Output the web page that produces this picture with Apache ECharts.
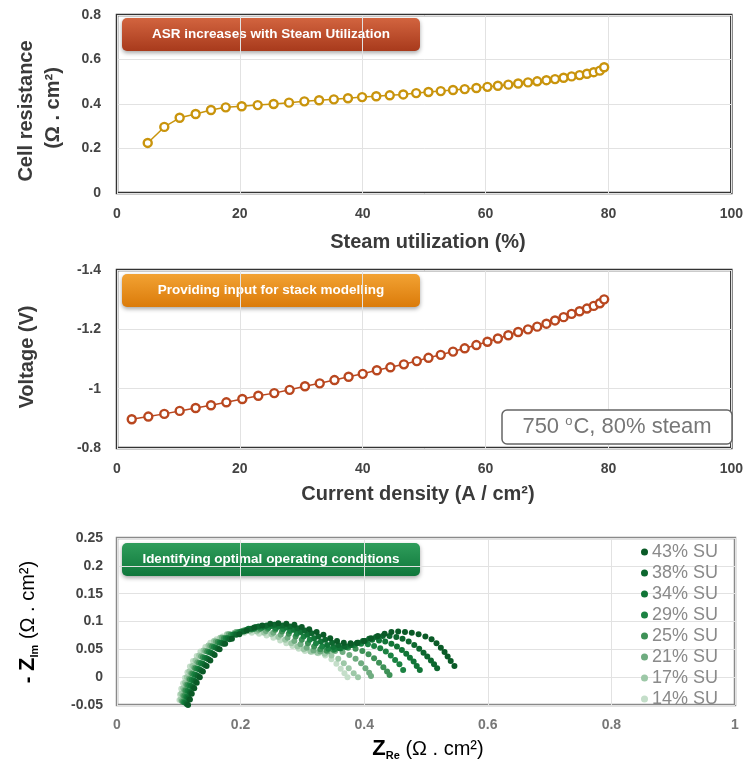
<!DOCTYPE html>
<html><head><meta charset="utf-8">
<script src="https://cdn.jsdelivr.net/npm/echarts@6/dist/echarts.min.js"></script>
<style>html,body{margin:0;padding:0;background:#fff}#c{width:746px;height:767px}</style>
</head><body><div id="c"></div>
<script>
// ---------- DATA ----------
const steamUtil = [5.0,7.7,10.2,12.8,15.3,17.7,20.3,22.9,25.5,28.0,30.5,32.9,35.3,37.6,39.9,42.2,44.4,46.6,48.7,50.7,52.7,54.7,56.6,58.5,60.3,62.0,63.7,65.3,66.9,68.4,69.9,71.3,72.7,74.0,75.3,76.5,77.6,78.6,79.3];
const cellRes = [0.225,0.297,0.338,0.355,0.373,0.385,0.390,0.395,0.400,0.406,0.412,0.417,0.421,0.426,0.431,0.435,0.439,0.443,0.449,0.454,0.458,0.463,0.467,0.472,0.477,0.482,0.487,0.492,0.497,0.502,0.507,0.512,0.518,0.524,0.530,0.536,0.543,0.550,0.565];
const currentDensity = [2.4,5.1,7.7,10.2,12.8,15.3,17.8,20.4,23.0,25.6,28.1,30.6,33.0,35.4,37.7,40.0,42.3,44.5,46.7,48.8,50.7,52.7,54.7,56.6,58.5,60.3,62.0,63.7,65.3,66.9,68.4,69.9,71.3,72.7,74.0,75.3,76.5,77.6,78.6,79.3];
const voltage = [-0.897,-0.906,-0.915,-0.925,-0.935,-0.944,-0.954,-0.965,-0.976,-0.985,-0.996,-1.008,-1.018,-1.029,-1.040,-1.050,-1.062,-1.072,-1.082,-1.093,-1.104,-1.114,-1.125,-1.136,-1.147,-1.158,-1.169,-1.180,-1.191,-1.200,-1.209,-1.219,-1.230,-1.241,-1.252,-1.261,-1.270,-1.279,-1.288,-1.301];

const suLabels = ['43% SU','38% SU','34% SU','29% SU','25% SU','21% SU','17% SU','14% SU'];

const eis43 = [[0.115,-0.050],[0.118,-0.040],[0.121,-0.030],[0.125,-0.020],[0.129,-0.010],[0.134,0.000],[0.139,0.010],[0.145,0.020],[0.151,0.030],[0.158,0.040],[0.166,0.050],[0.175,0.060],[0.186,0.069],[0.198,0.077],[0.210,0.084],[0.222,0.089],[0.235,0.093],[0.248,0.096],[0.261,0.097],[0.274,0.096],[0.287,0.094],[0.299,0.090],[0.311,0.086],[0.323,0.081],[0.334,0.076],[0.345,0.070],[0.356,0.065],[0.367,0.062],[0.378,0.061],[0.389,0.062],[0.400,0.065],[0.411,0.070],[0.422,0.074],[0.433,0.078],[0.444,0.081],[0.455,0.082],[0.466,0.081],[0.477,0.080],[0.488,0.077],[0.499,0.073],[0.509,0.068],[0.517,0.061],[0.524,0.053],[0.530,0.045],[0.535,0.037],[0.540,0.029],[0.546,0.020]];
const eis38 = [[0.113,-0.048],[0.116,-0.038],[0.119,-0.028],[0.123,-0.018],[0.127,-0.008],[0.131,0.002],[0.136,0.012],[0.142,0.022],[0.148,0.032],[0.155,0.042],[0.163,0.051],[0.172,0.060],[0.182,0.068],[0.193,0.076],[0.205,0.082],[0.217,0.087],[0.229,0.091],[0.242,0.093],[0.255,0.094],[0.268,0.093],[0.280,0.091],[0.292,0.088],[0.304,0.084],[0.315,0.079],[0.326,0.073],[0.337,0.067],[0.348,0.062],[0.358,0.058],[0.368,0.056],[0.378,0.058],[0.388,0.061],[0.398,0.065],[0.408,0.069],[0.419,0.072],[0.430,0.074],[0.441,0.074],[0.452,0.072],[0.462,0.069],[0.472,0.064],[0.481,0.058],[0.489,0.051],[0.496,0.044],[0.502,0.037],[0.508,0.030],[0.513,0.023],[0.518,0.016]];
const eis34 = [[0.111,-0.046],[0.114,-0.036],[0.117,-0.026],[0.120,-0.016],[0.124,-0.006],[0.128,0.004],[0.133,0.014],[0.139,0.024],[0.145,0.034],[0.152,0.044],[0.160,0.053],[0.169,0.062],[0.179,0.070],[0.190,0.077],[0.201,0.082],[0.213,0.087],[0.225,0.090],[0.238,0.091],[0.250,0.092],[0.262,0.091],[0.274,0.089],[0.286,0.085],[0.297,0.081],[0.308,0.076],[0.319,0.070],[0.330,0.064],[0.340,0.058],[0.350,0.054],[0.360,0.052],[0.370,0.054],[0.380,0.058],[0.391,0.062],[0.402,0.065],[0.413,0.067],[0.424,0.066],[0.434,0.064],[0.444,0.060],[0.453,0.055],[0.461,0.049],[0.468,0.042],[0.474,0.035],[0.480,0.028],[0.485,0.020],[0.490,0.013]];
const eis29 = [[0.109,-0.045],[0.112,-0.035],[0.114,-0.025],[0.117,-0.015],[0.121,-0.005],[0.125,0.005],[0.130,0.015],[0.136,0.025],[0.142,0.035],[0.149,0.045],[0.157,0.054],[0.166,0.062],[0.176,0.070],[0.187,0.076],[0.198,0.081],[0.210,0.085],[0.222,0.087],[0.234,0.089],[0.245,0.089],[0.257,0.088],[0.269,0.086],[0.280,0.083],[0.291,0.078],[0.302,0.073],[0.312,0.067],[0.322,0.061],[0.332,0.055],[0.342,0.051],[0.352,0.050],[0.362,0.052],[0.373,0.055],[0.384,0.058],[0.395,0.060],[0.406,0.059],[0.416,0.056],[0.426,0.052],[0.435,0.046],[0.443,0.039],[0.450,0.031],[0.457,0.023],[0.463,0.013]];
const eis25 = [[0.107,-0.044],[0.109,-0.034],[0.111,-0.024],[0.114,-0.014],[0.118,-0.004],[0.122,0.006],[0.127,0.016],[0.133,0.026],[0.139,0.036],[0.146,0.046],[0.154,0.055],[0.163,0.063],[0.173,0.070],[0.184,0.076],[0.195,0.080],[0.207,0.084],[0.219,0.086],[0.232,0.087],[0.244,0.087],[0.256,0.085],[0.267,0.082],[0.278,0.078],[0.289,0.073],[0.299,0.067],[0.309,0.061],[0.319,0.055],[0.329,0.050],[0.339,0.048],[0.350,0.049],[0.362,0.052],[0.374,0.053],[0.386,0.051],[0.397,0.047],[0.407,0.041],[0.416,0.034],[0.424,0.026],[0.431,0.018],[0.437,0.010],[0.441,0.004]];
const eis21 = [[0.105,-0.043],[0.107,-0.033],[0.109,-0.023],[0.112,-0.013],[0.116,-0.003],[0.120,0.007],[0.125,0.017],[0.130,0.027],[0.136,0.037],[0.143,0.047],[0.151,0.056],[0.160,0.064],[0.170,0.071],[0.181,0.077],[0.193,0.081],[0.205,0.084],[0.217,0.085],[0.229,0.085],[0.241,0.083],[0.253,0.080],[0.265,0.076],[0.276,0.071],[0.287,0.065],[0.297,0.059],[0.307,0.053],[0.318,0.048],[0.329,0.046],[0.341,0.046],[0.353,0.047],[0.365,0.045],[0.376,0.040],[0.386,0.033],[0.395,0.025],[0.402,0.016],[0.408,0.008],[0.411,0.002]];
const eis17 = [[0.103,-0.040],[0.104,-0.030],[0.107,-0.020],[0.110,-0.010],[0.113,0.000],[0.117,0.010],[0.122,0.020],[0.127,0.030],[0.133,0.039],[0.140,0.048],[0.148,0.057],[0.157,0.065],[0.167,0.071],[0.178,0.077],[0.190,0.080],[0.202,0.082],[0.214,0.083],[0.226,0.082],[0.238,0.080],[0.250,0.077],[0.261,0.072],[0.272,0.067],[0.282,0.061],[0.292,0.055],[0.302,0.050],[0.313,0.046],[0.324,0.044],[0.336,0.042],[0.347,0.039],[0.358,0.033],[0.367,0.025],[0.375,0.016],[0.383,0.007],[0.390,0.000]];
const eis14 = [[0.101,-0.041],[0.102,-0.031],[0.104,-0.021],[0.107,-0.011],[0.110,-0.001],[0.114,0.009],[0.118,0.019],[0.123,0.029],[0.129,0.038],[0.135,0.046],[0.143,0.054],[0.151,0.062],[0.161,0.068],[0.171,0.073],[0.182,0.077],[0.194,0.079],[0.206,0.080],[0.218,0.080],[0.230,0.078],[0.242,0.075],[0.253,0.071],[0.264,0.066],[0.274,0.061],[0.284,0.056],[0.294,0.051],[0.304,0.047],[0.315,0.045],[0.326,0.043],[0.337,0.039],[0.347,0.032],[0.355,0.024],[0.362,0.015],[0.368,0.007],[0.373,0.000]];

const eisSets = [eis43, eis38, eis34, eis29, eis25, eis21, eis17, eis14];

// ---------- STYLE ----------
const FF = '"Liberation Sans", Arial, sans-serif';
const suColors = ['#0a5a27','#0d672f','#117537','#1b8242','#3e9157','#6fac80','#9dc8a7','#c4dec9'];
const gridLine = {show:true, lineStyle:{color:'#e2e2e2', width:1}};
const tickLbl = (m, c) => ({fontFamily:FF, fontSize:14, fontWeight:'bold', color:c || '#444', margin:m});

const chart = echarts.init(document.getElementById('c'), null, {renderer:'canvas'});

function valAxis(grid, min, max, interval, lblMargin, color, extra) {
  return Object.assign({
    type:'value', gridIndex:grid, min:min, max:max, interval:interval,
    axisLine:{show:false}, axisTick:{show:false}, splitLine:gridLine,
    axisLabel:tickLbl(lblMargin, color)
  }, extra || {});
}

function badge(y, text, c1, c2) {
  return {
    type:'group', left:122, top:y, children:[
      {type:'rect', shape:{x:0, y:0, width:298, height:33, r:5},
       style:{fill:new echarts.graphic.LinearGradient(0,0,0,1,[{offset:0,color:c1},{offset:1,color:c2}]),
              shadowBlur:4, shadowOffsetY:2, shadowColor:'rgba(0,0,0,0.35)'}},
      {type:'text', x:149, y:16.5, style:{text:text, font:'bold 13.5px ' + FF, fill:'#fff', align:'center', verticalAlign:'middle'}}
    ]
  };
}

const labelColor = '#3a3a3a';

const series = [
  {type:'line', xAxisIndex:0, yAxisIndex:0, data:steamUtil.map((x,i)=>[x, cellRes[i]]),
   symbol:'circle', symbolSize:8, showSymbol:true,
   lineStyle:{color:'#c9940c', width:1.5}, itemStyle:{color:'#fff', borderColor:'#c9940c', borderWidth:2.4}, z:3},
  {type:'line', xAxisIndex:1, yAxisIndex:1, data:currentDensity.map((x,i)=>[x, voltage[i]]),
   symbol:'circle', symbolSize:8, showSymbol:true,
   lineStyle:{color:'#b9471f', width:1.5}, itemStyle:{color:'#fff', borderColor:'#b9471f', borderWidth:2.4}, z:3}
];
for (let k = eisSets.length - 1; k >= 0; k--) {
  series.push({type:'scatter', name:suLabels[k], xAxisIndex:2, yAxisIndex:2, data:eisSets[k],
    symbol:'circle', symbolSize:6, itemStyle:{color:suColors[k], opacity:1}, z:3 + (eisSets.length - k)});
}

const option = {
  animation:false,
  backgroundColor:'#fff',
  textStyle:{fontFamily:FF},
  grid:[
    {left:117, top:15, width:618, height:178, show:true, borderColor:'#333', borderWidth:2.5, backgroundColor:'transparent'},
    {left:117, top:270, width:618, height:178, show:true, borderColor:'#333', borderWidth:2.5, backgroundColor:'transparent'},
    {left:117, top:538, width:618, height:167, show:true, borderColor:'#8a8a8a', borderWidth:2.5, backgroundColor:'transparent'}
  ],
  xAxis:[
    valAxis(0, 0, 100, 20, 14),
    valAxis(1, 0, 100, 20, 14),
    valAxis(2, 0, 1, 0.2, 13, '#777')
  ],
  yAxis:[
    valAxis(0, 0, 0.8, 0.2, 16),
    valAxis(1, -1.4, -0.8, 0.2, 16, null, {inverse:true}),
    valAxis(2, -0.05, 0.25, 0.05, 14)
  ],
  legend:{
    data:suLabels, orient:'vertical', left:641, top:543, padding:0, itemGap:3,
    itemWidth:7, itemHeight:7, icon:'circle', selectedMode:false,
    textStyle:{fontFamily:FF, fontSize:18, color:'#8a8a8a', padding:[0,0,0,-1]}
  },
  series:series,
  graphic:[
    badge(18, 'ASR increases with Steam Utilization', '#d2643f', '#a83a1c'),
    badge(274, 'Providing input for stack modelling', '#f2a233', '#db7b0a'),
    badge(543, 'Identifying optimal operating conditions', '#2f9d5b', '#0f773b'),
    // condition box
    {type:'rect', shape:{x:502, y:410, width:230, height:34, r:5}, style:{fill:'#fff', stroke:'#666', lineWidth:1.5}, z:10},
    {type:'text', x:617, y:427, z:11, style:{
      text:'{a|750 }{s|o}{a|C, 80% steam}', align:'center', verticalAlign:'middle',
      rich:{a:{fontFamily:FF, fontSize:22, fill:'#777', color:'#777', lineHeight:24},
            s:{fontFamily:FF, fontSize:13, fill:'#777', color:'#777', lineHeight:24, verticalAlign:'top', padding:[0,1,10,0]}}}},
    // y axis titles
    {type:'text', x:26, y:111, rotation:Math.PI/2, style:{text:'Cell resistance', font:'bold 20px ' + FF, fill:labelColor, align:'center', verticalAlign:'middle'}},
    {type:'text', x:53, y:108, rotation:Math.PI/2, style:{text:'(Ω . cm²)', font:'bold 20px ' + FF, fill:labelColor, align:'center', verticalAlign:'middle'}},
    {type:'text', x:27, y:357, rotation:Math.PI/2, style:{text:'Voltage (V)', font:'bold 20px ' + FF, fill:labelColor, align:'center', verticalAlign:'middle'}},
    {type:'text', x:28, y:622, rotation:Math.PI/2, style:{
      text:'{d|- }{z|Z}{b|Im}{r| (Ω . cm²)}', align:'center', verticalAlign:'middle',
      rich:{d:{fontFamily:FF, fontSize:20, fontWeight:'bold', color:labelColor, lineHeight:24},
            z:{fontFamily:FF, fontSize:22, fontWeight:'bold', color:labelColor, lineHeight:24},
            b:{fontFamily:FF, fontSize:11, fontWeight:'bold', color:labelColor, lineHeight:24, verticalAlign:'bottom', padding:[0,0,0,0]},
            r:{fontFamily:FF, fontSize:20, color:labelColor, lineHeight:24}}}},
    // x axis titles
    {type:'text', x:428, y:242, style:{text:'Steam utilization (%)', font:'bold 20px ' + FF, fill:labelColor, align:'center', verticalAlign:'middle'}},
    {type:'text', x:418, y:494, style:{text:'Current density (A / cm²)', font:'bold 20px ' + FF, fill:labelColor, align:'center', verticalAlign:'middle'}},
    {type:'text', x:428, y:749, style:{
      text:'{z|Z}{b|Re}{r| (Ω . cm²)}', align:'center', verticalAlign:'middle',
      rich:{z:{fontFamily:FF, fontSize:22, fontWeight:'bold', color:labelColor, lineHeight:24},
            b:{fontFamily:FF, fontSize:11, fontWeight:'bold', color:labelColor, lineHeight:24, verticalAlign:'bottom'},
            r:{fontFamily:FF, fontSize:20, color:labelColor, lineHeight:24}}}}
  ]
};
chart.setOption(option);
</script>
</body></html>
